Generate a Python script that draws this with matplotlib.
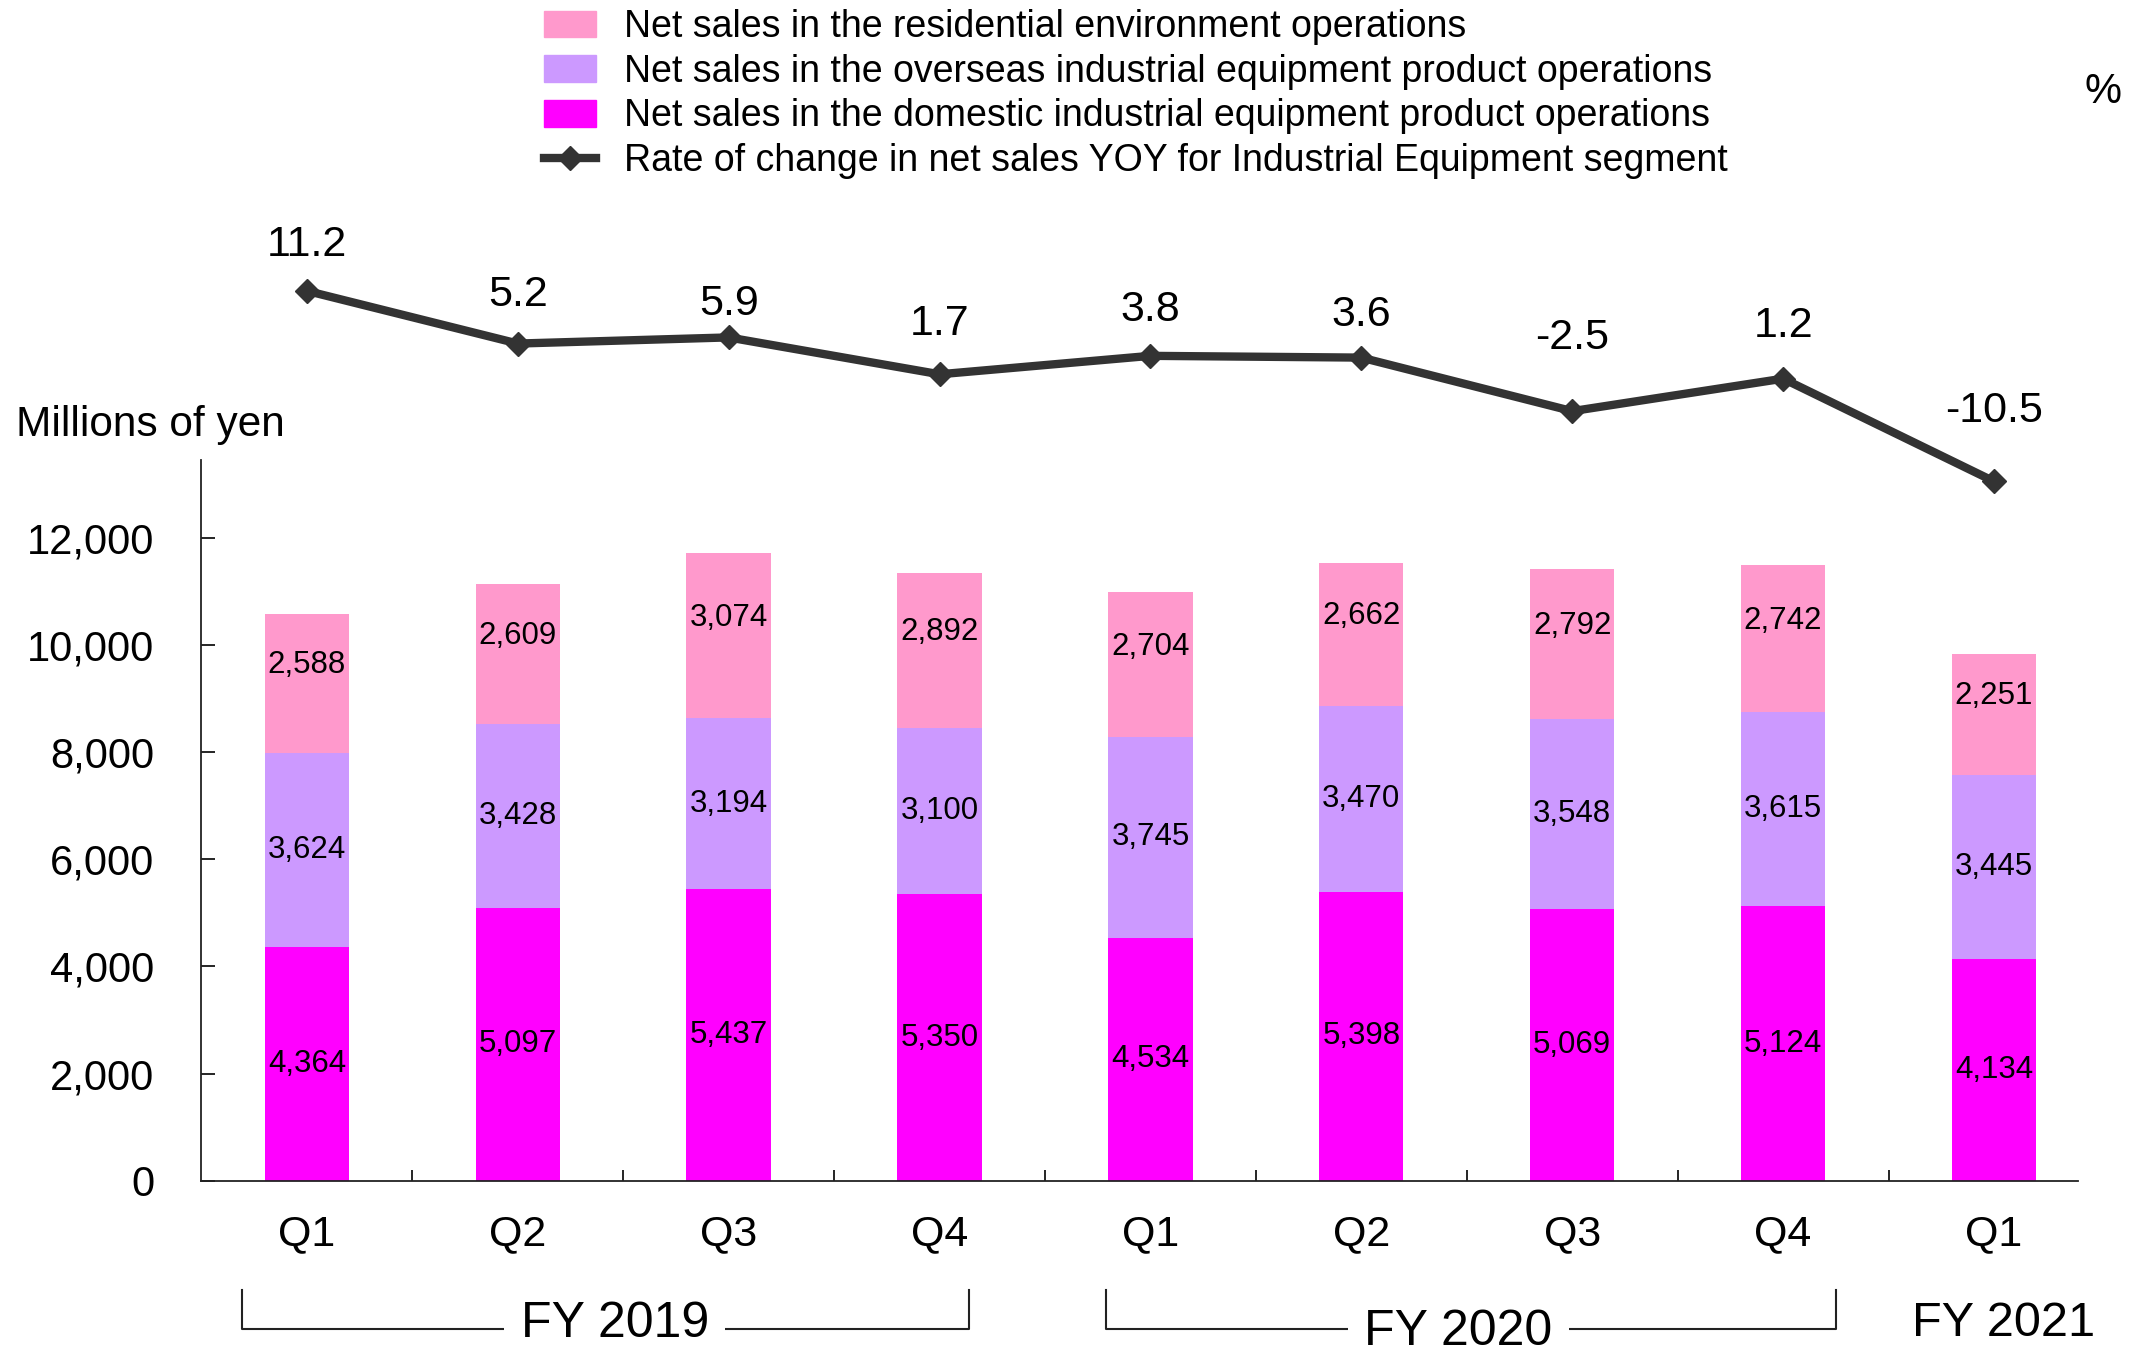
import numpy as np
import matplotlib.pyplot as plt
from matplotlib.patches import Patch
from matplotlib.lines import Line2D
from matplotlib.ticker import FuncFormatter, FixedLocator
import matplotlib.transforms as mtransforms

quarters = ["Q1", "Q2", "Q3", "Q4", "Q1", "Q2", "Q3", "Q4", "Q1"]
domestic = [4364, 5097, 5437, 5350, 4534, 5398, 5069, 5124, 4134]
overseas = [3624, 3428, 3194, 3100, 3745, 3470, 3548, 3615, 3445]
residential = [2588, 2609, 3074, 2892, 2704, 2662, 2792, 2742, 2251]
yoy_rate = [11.2, 5.2, 5.9, 1.7, 3.8, 3.6, -2.5, 1.2, -10.5]
# fiscal year groups: (label, first quarter index, last quarter index)
fiscal_years = [("FY 2019", 0, 3), ("FY 2020", 4, 7), ("FY 2021", 8, 8)]

# layout tweaks: bracket padding around each group and label placement
bracket_pad = [(0.31, 0.14), (0.21, 0.25), (0, 0)]
fy_label_dx = [-0.04, -0.04, 0.045]
fy_label_y = [-0.198, -0.209, -0.198]
# vertical offset (points) of each rate label above its marker
rate_label_dy = [33, 35, 24, 36, 33, 31, 53, 38, 51]

FONT = ["Liberation Sans", "DejaVu Sans"]

c_dom = "#FF00FF"
c_ovs = "#CC99FF"
c_res = "#FF99CC"
c_line = "#333333"

fig = plt.figure(figsize=(21.34, 13.51), dpi=100)
ax = fig.add_axes([0.0944, 0.1259, 0.8795, 0.5337])

x = np.arange(len(quarters))
dom = np.array(domestic)
ovs = np.array(overseas)
res = np.array(residential)

ax.bar(x, dom, width=0.4, color=c_dom)
ax.bar(x, ovs, width=0.4, bottom=dom, color=c_ovs)
ax.bar(x, res, width=0.4, bottom=dom + ovs, color=c_res)

for i in x:
    ax.text(i, dom[i] / 2, f"{dom[i]:,}", ha="center", va="center",
            fontsize=22.5, family=FONT)
    ax.text(i, dom[i] + ovs[i] / 2, f"{ovs[i]:,}", ha="center", va="center",
            fontsize=22.5, family=FONT)
    ax.annotate(f"{res[i]:,}", (i, dom[i] + ovs[i] + res[i] / 2),
                xytext=(0, 13), textcoords="offset points",
                ha="center", va="center", fontsize=22.5, family=FONT)

ax.set_xlim(-0.5, 8.4)
ax.set_ylim(0, 13450)
ax.set_yticks(np.arange(0, 12001, 2000))
ax.yaxis.set_major_formatter(FuncFormatter(lambda v, p: f"{int(v):,}"))
ax.set_xticks(x)
ax.set_xticklabels(quarters, family=FONT, fontsize=31)
ax.xaxis.set_minor_locator(FixedLocator(x[:-1] + 0.5))
ax.tick_params(axis="x", which="major", length=0, pad=24)
ax.tick_params(axis="x", which="minor", direction="in", length=8, width=1.2)
ax.tick_params(axis="y", direction="in", length=10, width=1.2, pad=34,
               labelsize=30)
for lbl in ax.get_yticklabels():
    lbl.set_family(FONT)
for side in ("top", "right"):
    ax.spines[side].set_visible(False)
for side in ("left", "bottom"):
    ax.spines[side].set_linewidth(1.3)
    ax.spines[side].set_color("#222222")

# fiscal year brackets under the quarter labels
trans = mtransforms.blended_transform_factory(ax.transData, ax.transAxes)
for (label, i0, i1), (pl, pr), dx, ly in zip(fiscal_years, bracket_pad,
                                             fy_label_dx, fy_label_y):
    xc = (i0 + i1) / 2 + dx
    if i1 > i0:
        x0, x1 = i0 - pl, i1 + pr
        ax.plot([x0, x0, x1, x1], [-0.151, -0.206, -0.206, -0.151],
                color="#222222", lw=1.5, transform=trans, clip_on=False)
        ax.text(xc, ly, label, ha="center", va="center",
                fontsize=36, family=FONT, transform=trans,
                bbox=dict(facecolor="white", edgecolor="none", pad=12))
    else:
        ax.text(xc, ly, label, ha="center", va="center",
                fontsize=35, family=FONT, transform=trans)

# YOY rate line drawn on its own axes above the bars
lx = fig.add_axes([0.0944, 0.1259, 0.8795, 0.7231])
lx.set_xlim(ax.get_xlim())
lx.set_ylim(-90.2, 21.1)
lx.axis("off")
lx.patch.set_alpha(0)
lx.plot(x, yoy_rate, color=c_line, lw=6, marker="D", markersize=12)
for i, v in enumerate(yoy_rate):
    lx.annotate(f"{v}", (i, v), xytext=(0, rate_label_dy[i]),
                textcoords="offset points", ha="center", va="center",
                fontsize=31, family=FONT)

fig.text(0.0075, 1 - 425 / 1351, "Millions of yen", ha="left", va="center",
         fontsize=30.5, family=FONT)
fig.text(2103 / 2134, 1 - 92 / 1351, "%", ha="center", va="center",
         fontsize=30, family=FONT)

handles = [
    Patch(color=c_res, label="Net sales in the residential environment operations"),
    Patch(color=c_ovs, label="Net sales in the overseas industrial equipment product operations"),
    Patch(color=c_dom, label="Net sales in the domestic industrial equipment product operations"),
    Line2D([], [], color=c_line, lw=6, marker="D", markersize=12,
           label="Rate of change in net sales YOY for Industrial Equipment segment"),
]
fig.legend(handles=handles, loc="upper left", bbox_to_anchor=(540 / 2134, 0.996),
           frameon=False, prop={"family": FONT, "size": 27},
           handlelength=1.4, handleheight=0.72, handletextpad=0.75,
           labelspacing=0.23, borderpad=0.1, borderaxespad=0)

fig.savefig("out.png", dpi=100)
